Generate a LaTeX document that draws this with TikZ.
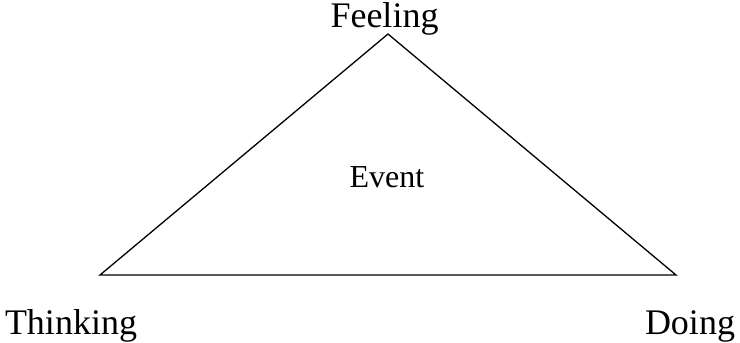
\documentclass[tikz,border=0pt]{standalone}
\usepackage{fontspec}
\setmainfont{Liberation Serif}
\begin{document}
\begin{tikzpicture}[x=1pt,y=-1pt,
  corner/.style={inner sep=0pt,anchor=base,font=\fontsize{36}{40}\selectfont},
  centre/.style={inner sep=0pt,anchor=base,font=\fontsize{32}{36}\selectfont},
  edge/.style={line width=1.3pt,line join=miter}]
\useasboundingbox (0,0) rectangle (740,343);
\coordinate (top) at (388,34);
\coordinate (left) at (100,275);
\coordinate (right) at (676,275);
\draw[edge] (left) -- (top) -- (right) -- cycle;
\node[corner] (feeling) at (384.5,27) {Feeling};
\node[corner] (thinking) at (71,334) {Thinking};
\node[corner] (doing) at (690,334) {Doing};
\node[centre] (event) at (387,187) {Event};
\end{tikzpicture}
\end{document}
